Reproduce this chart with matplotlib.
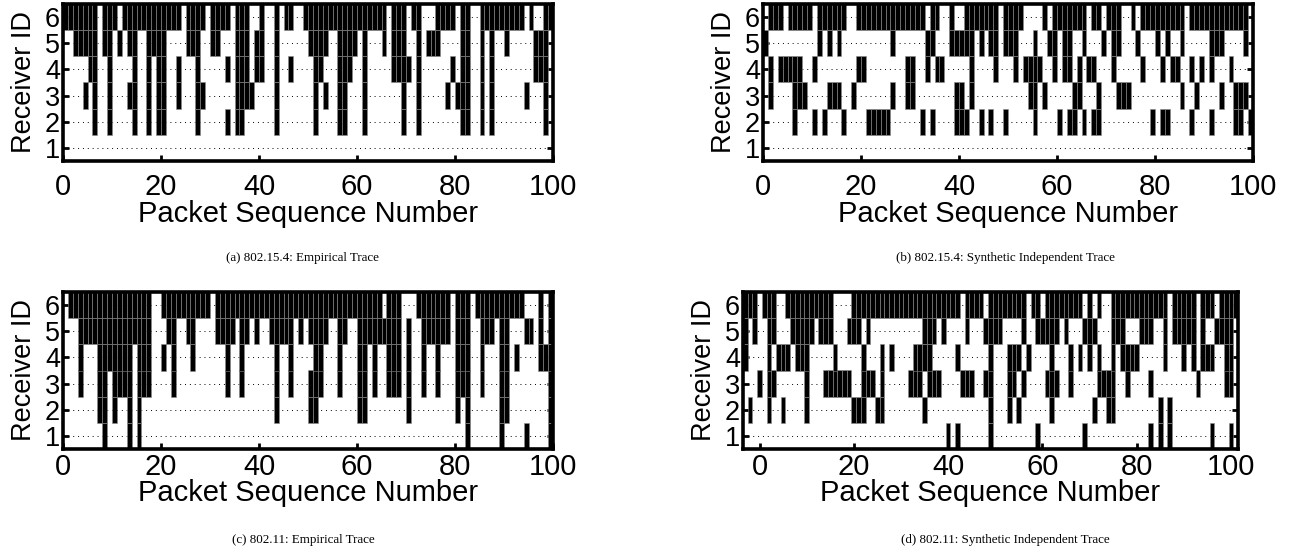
import numpy as np
import matplotlib
matplotlib.use("Agg")
import matplotlib.pyplot as plt

# Receiver loss traces: for every receiver, the packet numbers it lost

receivers = [1, 2, 3, 4, 5, 6]
x_ticks = [0, 20, 40, 60, 80, 100]

# (a) 802.15.4: Empirical Trace
a_rx6 = [0, 1, 2, 3, 4, 5, 6, 8, 9, 10, 12, 13, 14, 15, 16, 17, 18, 19, 20, 21, 22, 23, 25, 26, 27, 28, 30, 31, 32,
         33, 35, 36, 37, 40, 43, 45, 46, 49, 50, 51, 52, 53, 54, 55, 56, 57, 58, 59, 60, 61, 62, 63, 64, 65, 67, 68,
         69, 71, 72, 76, 77, 78, 79, 81, 82, 85, 86, 87, 88, 89, 90, 91, 92, 93, 95, 98, 99]
a_rx5 = [2, 3, 4, 5, 6, 8, 9, 11, 13, 14, 17, 18, 19, 20, 25, 26, 27, 30, 31, 35, 36, 37, 39, 40, 43, 50, 51, 52, 53,
         56, 57, 58, 59, 61, 65, 67, 68, 69, 72, 74, 75, 76, 81, 82, 85, 87, 90, 96, 97, 98]
a_rx4 = [5, 6, 9, 14, 17, 19, 20, 23, 27, 33, 35, 36, 37, 39, 40, 43, 46, 51, 52, 56, 57, 58, 61, 67, 68, 69, 70, 72,
         79, 81, 82, 85, 87, 96, 97, 98]
a_rx3 = [4, 6, 9, 13, 14, 17, 19, 20, 23, 27, 28, 35, 36, 37, 38, 43, 51, 53, 56, 57, 61, 69, 72, 78, 80, 81, 82, 85,
         87, 94, 98]
a_rx2 = [6, 9, 14, 17, 19, 20, 27, 33, 35, 36, 43, 51, 56, 57, 61, 69, 72, 81, 82, 85, 87, 98]
a_rx1 = []

# (b) 802.15.4: Synthetic Independent Trace
b_rx6 = [1, 2, 3, 5, 6, 7, 8, 9, 11, 12, 13, 14, 15, 16, 19, 20, 21, 22, 23, 24, 25, 26, 27, 28, 29, 30, 31, 32, 34,
         35, 38, 41, 42, 43, 44, 45, 46, 47, 49, 50, 51, 52, 57, 59, 60, 61, 62, 63, 64, 65, 67, 68, 70, 71, 72, 75,
         77, 78, 79, 80, 81, 82, 83, 84, 85, 87, 88, 89, 90, 91, 92, 93, 94, 95, 96, 97, 98]
b_rx5 = [0, 11, 13, 15, 26, 33, 34, 38, 39, 40, 41, 42, 44, 46, 47, 49, 50, 51, 55, 58, 59, 61, 62, 65, 69, 71, 72,
         76, 80, 82, 85, 91, 92, 93, 98]
b_rx4 = [1, 3, 4, 5, 6, 7, 10, 19, 20, 29, 30, 33, 35, 36, 42, 47, 51, 53, 54, 55, 56, 59, 61, 62, 64, 66, 67, 71,
         77, 81, 83, 84, 87, 89, 91, 95]
b_rx3 = [1, 6, 7, 8, 13, 14, 15, 18, 26, 29, 30, 39, 40, 42, 54, 55, 57, 63, 64, 68, 72, 73, 74, 85, 88, 93, 96, 97,
         98]
b_rx2 = [6, 10, 12, 16, 21, 22, 23, 24, 25, 32, 34, 39, 40, 41, 44, 46, 49, 55, 60, 62, 63, 65, 67, 68, 79, 81, 82,
         87, 91, 96, 97, 99]
b_rx1 = []

# (c) 802.11: Empirical Trace
c_rx6 = [1, 2, 3, 4, 5, 6, 7, 8, 9, 10, 11, 12, 13, 14, 15, 16, 17, 20, 21, 22, 23, 24, 25, 26, 27, 28, 29, 31, 32,
         33, 34, 35, 36, 37, 38, 39, 40, 41, 42, 43, 44, 45, 46, 47, 48, 49, 50, 51, 52, 53, 54, 55, 56, 57, 58, 59,
         60, 61, 62, 63, 64, 66, 67, 68, 72, 73, 74, 75, 76, 77, 78, 80, 81, 82, 84, 85, 86, 87, 88, 89, 90, 91, 92,
         93, 97, 99]
c_rx5 = [3, 4, 5, 6, 7, 8, 9, 10, 11, 12, 13, 14, 15, 16, 17, 21, 22, 25, 26, 31, 32, 33, 34, 36, 37, 39, 42, 43, 44,
         45, 46, 48, 50, 51, 52, 53, 56, 57, 60, 61, 62, 63, 64, 65, 66, 67, 68, 70, 73, 74, 75, 76, 77, 78, 80, 81,
         82, 85, 86, 87, 89, 90, 94, 95, 97, 99]
c_rx4 = [3, 7, 8, 9, 10, 11, 12, 13, 15, 16, 17, 20, 22, 26, 33, 36, 43, 46, 51, 52, 56, 60, 61, 63, 66, 67, 68, 70,
         73, 76, 80, 81, 82, 85, 89, 90, 92, 97, 98, 99]
c_rx3 = [3, 7, 8, 10, 11, 12, 13, 15, 16, 17, 22, 33, 36, 43, 46, 50, 51, 52, 56, 60, 61, 63, 66, 67, 68, 70, 73, 76,
         80, 81, 82, 85, 89, 90, 99]
c_rx2 = [7, 8, 10, 13, 15, 43, 50, 51, 60, 61, 70, 80, 82, 89, 90, 99]
c_rx1 = [8, 13, 15, 82, 89, 94, 99]

# (d) 802.11: Synthetic Independent Trace (this panel's x axis runs a little wider)
d_rx6 = [-3, -2, -1, 1, 2, 3, 6, 7, 8, 9, 10, 11, 12, 13, 14, 15, 20, 21, 22, 23, 24, 25, 26, 27, 28, 29, 30, 31, 32,
         33, 34, 35, 36, 37, 38, 39, 40, 41, 42, 44, 45, 46, 47, 49, 50, 51, 52, 53, 54, 55, 56, 58, 59, 61, 62, 63,
         64, 65, 66, 67, 68, 70, 72, 75, 76, 77, 78, 79, 80, 81, 82, 83, 84, 85, 86, 88, 89, 90, 91, 92, 94, 95, 96,
         98, 99, 100, 101]
d_rx5 = [-3, -1, 2, 3, 7, 8, 9, 10, 11, 13, 14, 15, 19, 20, 21, 23, 35, 36, 37, 39, 44, 48, 49, 50, 51, 56, 59, 60,
         61, 62, 63, 65, 69, 70, 71, 75, 76, 77, 81, 82, 83, 86, 88, 89, 90, 91, 92, 94, 97, 98, 99, 100]
d_rx4 = [-3, 2, 4, 5, 6, 8, 9, 10, 16, 22, 26, 28, 33, 34, 35, 36, 42, 49, 53, 54, 55, 57, 62, 66, 68, 70, 72, 75,
         77, 78, 79, 80, 86, 90, 92, 94, 95, 96, 99, 100]
d_rx3 = [0, 2, 3, 10, 14, 15, 16, 17, 18, 19, 22, 23, 24, 26, 32, 33, 34, 36, 37, 38, 43, 44, 45, 48, 49, 53, 54, 56,
         61, 62, 63, 66, 72, 73, 74, 75, 78, 83, 93, 99, 100]
d_rx2 = [-2, 2, 5, 10, 20, 21, 22, 25, 26, 35, 49, 53, 55, 62, 71, 74, 75, 85, 87]
d_rx1 = [40, 42, 49, 59, 69, 83, 85, 87, 96, 100]

panels = [
    ([a_rx1, a_rx2, a_rx3, a_rx4, a_rx5, a_rx6], '(a) 802.15.4: Empirical Trace'),
    ([b_rx1, b_rx2, b_rx3, b_rx4, b_rx5, b_rx6], '(b) 802.15.4: Synthetic Independent Trace'),
    ([c_rx1, c_rx2, c_rx3, c_rx4, c_rx5, c_rx6], '(c) 802.11: Empirical Trace'),
    ([d_rx1, d_rx2, d_rx3, d_rx4, d_rx5, d_rx6], '(d) 802.11: Synthetic Independent Trace'),
]

W, H = 1295, 555
# axes boxes in pixels: left, top, right, bottom
boxes = [(63, 4, 553, 161), (763, 4, 1253, 161), (63, 292, 553, 449), (743, 292, 1238, 449)]
x_limits = [(0, 100), (0, 100), (0, 100), (-3.5, 101.5)]
bar_align = ['edge', 'edge', 'edge', 'center']
tick_pads = [9, 9, 3, 3]
label_pads = [-1, -1, -1.5, -1.5]
caption_xy = [(303, 258), (1005, 258), (303, 540), (1005, 540)]

plt.rcParams['font.family'] = ['Liberation Sans', 'DejaVu Sans']
fig = plt.figure(figsize=(W / 100, H / 100), dpi=100)

for i, ((rows, caption), (l, t, r, b)) in enumerate(zip(panels, boxes)):
    ax = fig.add_axes([l / W, 1 - b / H, (r - l) / W, (b - t) / H])
    ax.set_axisbelow(True)
    for rx, lost in zip(receivers, rows):
        if lost:
            ax.bar(lost, 1.0, width=1.0, bottom=rx - 0.5, color='black',
                   edgecolor='#8c8c8c', linewidth=0.4, align=bar_align[i])
    ax.set_xlim(*x_limits[i])
    ax.set_ylim(0.5, 6.5)
    ax.set_xticks(x_ticks)
    ax.set_yticks(receivers)
    ax.yaxis.grid(True, linestyle=(0, (1, 4)), color='black', linewidth=0.7)
    ax.tick_params(direction='in', length=4, width=2, right=True, top=False)
    ax.tick_params(axis='y', labelsize=19.5, pad=2)
    ax.tick_params(axis='x', labelsize=21, pad=tick_pads[i])
    for s in ax.spines.values():
        s.set_linewidth(2.6)
    ax.set_xlabel('Packet Sequence Number', fontsize=21, labelpad=label_pads[i])
    ax.set_ylabel('Receiver ID', fontsize=19.5, labelpad=6)
    cx, cy = caption_xy[i]
    fig.text(cx / W, 1 - cy / H, caption, ha='center', va='center',
             family=['Liberation Serif', 'DejaVu Serif'], fontsize=9.4)

fig.savefig('out.png', dpi=100)
